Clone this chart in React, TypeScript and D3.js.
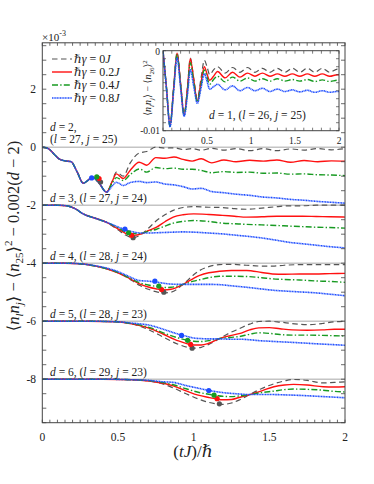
import React from 'react';
import * as d3 from 'd3';

// series order everywhere: hbar*gamma = 0J, 0.2J, 0.4J, 0.8J
const gammas = ['0', '0.2', '0.4', '0.8'];
const colors = ['#555555', '#ff1111', '#189a22', '#1d4cff'];
const dashes = ['5.5,3.5', 'none', '6,2.2,1.4,2.2', '1.1,0.5'];

// panel labels
const panelD = [2, 3, 4, 5, 6];
const panelL = [27, 27, 28, 28, 29];
const panelJ = [25, 24, 24, 23, 23];
const yTickLabels = [2, 0, -2, -4, -6, -8];

// d = 2 (values in units of 1e-3, already shifted by -0.002(d-2))
const t2 = [0, 0.04, 0.08, 0.11, 0.15, 0.19, 0.23, 0.27, 0.3, 0.33, 0.37, 0.425,
  0.46, 0.49, 0.535, 0.58, 0.64, 0.69, 0.75, 0.81, 0.87, 0.93, 0.99, 1.05, 1.12,
  1.2, 1.28, 1.37, 1.46, 1.55, 1.64, 1.73, 1.82, 1.91, 2.0];
const d2Early = [0, -0.05, -0.25, -0.4, -0.47, -0.5, -0.85, -1.24, -1.15, -1.03, -1.2, -1.55];
const d2Gray = [...d2Early, -1.2, -0.86, -1.0, -0.55, -0.2, -0.15, 0.0, -0.03, -0.02, -0.08, -0.05,
  -0.1, -0.04, -0.1, -0.05, -0.12, -0.05, -0.12, -0.06, -0.1, -0.05, -0.09, -0.05];
const d2Red = [...d2Early, -1.2, -0.92, -1.08, -0.8, -0.52, -0.62, -0.36, -0.38, -0.34, -0.42, -0.48,
  -0.4, -0.54, -0.44, -0.5, -0.45, -0.48, -0.44, -0.52, -0.46, -0.5, -0.47, -0.48];
const d2Green = [...d2Early, -1.25, -1.05, -1.15, -0.95, -0.75, -0.86, -0.7, -0.74, -0.72, -0.76, -0.76,
  -0.8, -0.88, -0.84, -0.87, -0.86, -0.9, -0.89, -0.93, -0.92, -0.95, -0.96, -0.98];
const d2Blue = [...d2Early, -1.35, -1.21, -1.32, -1.22, -1.18, -1.22, -1.2, -1.27, -1.3, -1.36, -1.44,
  -1.42, -1.53, -1.57, -1.62, -1.66, -1.72, -1.75, -1.8, -1.83, -1.87, -1.9, -1.93];
const d2DotT = [0.385, 0.375, 0.36, 0.326];
const d2DotV = [-1.2, -1.08, -1.02, -1.06];

// d = 3
const t3 = [0, 0.1, 0.16, 0.22, 0.27, 0.35, 0.425, 0.5, 0.55, 0.6, 0.65, 0.7, 0.755,
  0.81, 0.865, 0.93, 1.0, 1.1, 1.19, 1.27, 1.35, 1.45, 1.55, 1.63, 1.72, 1.81, 1.9, 2.0];
const d3Early = [-2, -2, -2.02, -2.13, -2.3, -2.45, -2.59];
const d3Gray = [...d3Early, -2.85, -3.03, -3.12, -3.02, -2.8, -2.53, -2.33, -2.18, -2.08, -2.05,
  -2.07, -2.08, -2.12, -2.14, -2.1, -2.05, -2.02, -2.02, -2.0, -2.0, -2.0];
const d3Red = [...d3Early, -2.82, -2.97, -3.04, -3.0, -2.88, -2.76, -2.57, -2.41, -2.33, -2.3,
  -2.32, -2.35, -2.38, -2.41, -2.4, -2.38, -2.38, -2.38, -2.39, -2.4, -2.41];
const d3Green = [...d3Early, -2.78, -2.92, -2.98, -2.97, -2.9, -2.83, -2.72, -2.62, -2.56, -2.53,
  -2.56, -2.62, -2.64, -2.66, -2.68, -2.7, -2.72, -2.74, -2.76, -2.77, -2.79];
const d3Blue = [...d3Early, -2.75, -2.85, -2.92, -2.96, -2.96, -2.95, -2.94, -2.93, -2.92, -2.93,
  -2.96, -2.99, -3.03, -3.07, -3.13, -3.21, -3.28, -3.33, -3.38, -3.43, -3.47];
const d3DotT = [0.6, 0.59, 0.57, 0.546];
const d3DotV = [-3.12, -3.04, -2.95, -2.82];

// d = 4
const t4 = [0, 0.15, 0.25, 0.33, 0.425, 0.5, 0.557, 0.645, 0.7, 0.75, 0.8, 0.85, 0.93,
  1.0, 1.04, 1.1, 1.17, 1.25, 1.35, 1.45, 1.52, 1.6, 1.7, 1.8, 1.9, 2.0];
const d4Gray = [-4, -4, -4.02, -4.08, -4.19, -4.33, -4.48, -4.77, -4.9, -4.98, -5.02, -5.0, -4.73,
  -4.4, -4.25, -4.12, -4.05, -4.04, -4.07, -4.1, -4.1, -4.07, -4.05, -4.05, -4.05, -4.05];
const d4Red = [-4, -4, -4.02, -4.08, -4.19, -4.33, -4.47, -4.72, -4.82, -4.88, -4.92, -4.9, -4.73,
  -4.52, -4.42, -4.33, -4.28, -4.25, -4.25, -4.32, -4.37, -4.38, -4.37, -4.37, -4.36, -4.35];
const d4Green = [-4, -4, -4.02, -4.08, -4.19, -4.32, -4.46, -4.68, -4.75, -4.8, -4.84, -4.83, -4.73,
  -4.62, -4.57, -4.5, -4.45, -4.45, -4.46, -4.5, -4.54, -4.56, -4.58, -4.61, -4.63, -4.66];
const d4Blue = [-4, -4, -4.02, -4.07, -4.17, -4.29, -4.42, -4.6, -4.62, -4.65, -4.69, -4.72, -4.73,
  -4.73, -4.73, -4.73, -4.74, -4.78, -4.83, -4.89, -4.93, -4.96, -4.99, -5.02, -5.07, -5.12];
const d4DotT = [0.803, 0.788, 0.77, 0.744];
const d4DotV = [-5.0, -4.91, -4.79, -4.62];

// d = 5
const t5 = [0, 0.3, 0.49, 0.6, 0.71, 0.8, 0.9, 0.96, 1.0, 1.05, 1.1, 1.17, 1.24, 1.3,
  1.37, 1.43, 1.5, 1.57, 1.65, 1.75, 1.85, 1.93, 2.0];
const d5Gray = [-6, -6, -6.02, -6.1, -6.31, -6.55, -6.8, -6.9, -6.93, -6.9, -6.8, -6.6, -6.4, -6.26,
  -6.1, -6.01, -6.0, -6.03, -6.08, -6.12, -6.08, -6.02, -6.0];
const d5Red = [-6, -6, -6.02, -6.1, -6.25, -6.45, -6.68, -6.78, -6.82, -6.82, -6.76, -6.6, -6.5, -6.43,
  -6.3, -6.23, -6.22, -6.26, -6.3, -6.31, -6.3, -6.28, -6.28];
const d5Green = [-6, -6, -6.02, -6.09, -6.22, -6.4, -6.58, -6.66, -6.69, -6.7, -6.67, -6.6, -6.56, -6.53,
  -6.45, -6.4, -6.42, -6.46, -6.48, -6.48, -6.49, -6.5, -6.51];
const d5Blue = [-6, -6, -6.02, -6.07, -6.14, -6.28, -6.45, -6.53, -6.58, -6.6, -6.61, -6.61, -6.62, -6.62,
  -6.64, -6.67, -6.69, -6.71, -6.73, -6.76, -6.79, -6.81, -6.83];
const d5DotT = [0.99, 0.98, 0.96, 0.92];
const d5DotV = [-6.93, -6.8, -6.66, -6.49];

// d = 6
const t6 = [0, 0.4, 0.6, 0.7, 0.8, 0.865, 0.95, 1.03, 1.1, 1.15, 1.19, 1.25, 1.3, 1.37,
  1.45, 1.53, 1.6, 1.66, 1.75, 1.855, 1.93, 2.0];
const d6Gray = [-8, -8, -8.02, -8.06, -8.17, -8.3, -8.5, -8.68, -8.8, -8.85, -8.87, -8.82, -8.72, -8.53,
  -8.32, -8.16, -8.06, -8.01, -8.04, -8.13, -8.11, -8.09];
const d6Red = [-8, -8, -8.02, -8.06, -8.14, -8.23, -8.4, -8.55, -8.63, -8.68, -8.71, -8.7, -8.63, -8.53,
  -8.4, -8.26, -8.2, -8.18, -8.2, -8.26, -8.27, -8.26];
const d6Green = [-8, -8, -8.02, -8.05, -8.12, -8.19, -8.33, -8.45, -8.52, -8.56, -8.59, -8.6, -8.58, -8.53,
  -8.46, -8.41, -8.36, -8.34, -8.35, -8.38, -8.42, -8.44];
const d6Blue = [-8, -8, -8.02, -8.04, -8.09, -8.11, -8.22, -8.31, -8.39, -8.43, -8.46, -8.49, -8.51, -8.53,
  -8.53, -8.53, -8.54, -8.55, -8.57, -8.6, -8.62, -8.64];
const d6DotT = [1.17, 1.155, 1.135, 1.1];
const d6DotV = [-8.85, -8.67, -8.55, -8.39];

// inset, d = 1 (units of 1e-3)
const tIn = [0, 0.04, 0.08, 0.12, 0.16, 0.2, 0.24, 0.28, 0.31, 0.35, 0.39, 0.43, 0.47, 0.5,
  0.53, 0.575, 0.62, 0.705, 0.79, 0.875, 0.96, 1.045, 1.13, 1.215, 1.3, 1.385, 1.47, 1.555,
  1.64, 1.725, 1.81, 1.895, 1.98, 2.0];
const inGray = [0, -4.8, -9.5, -4.8, -0.2, -4.0, -7.9, -4.3, -0.9, -3.5, -6.0, -3.6, -1.2, -2.0,
  -3.0, -2.4, -2.0, -2.8, -2.1, -2.7, -2.1, -2.7, -2.2, -2.7, -2.2, -2.7, -2.2, -2.7,
  -2.2, -2.7, -2.2, -2.7, -2.3, -2.3];
const inRed = [0, -4.7, -9.4, -4.8, -0.3, -4.2, -8.0, -4.5, -1.0, -3.7, -6.3, -4.1, -2.0, -2.9,
  -3.7, -3.2, -2.6, -3.4, -2.7, -3.3, -2.8, -3.2, -2.8, -3.2, -2.9, -3.2, -2.9, -3.2,
  -2.9, -3.2, -2.9, -3.2, -3.0, -3.0];
const inGreen = [0, -4.7, -9.4, -4.9, -0.5, -4.3, -8.1, -4.8, -1.5, -4.0, -6.4, -4.4, -2.4, -3.3,
  -4.2, -3.6, -3.2, -3.9, -3.3, -3.8, -3.4, -3.8, -3.5, -3.8, -3.5, -3.8, -3.6, -3.8,
  -3.6, -3.85, -3.65, -3.85, -3.7, -3.7];
const inBlue = [0, -4.8, -9.5, -5.2, -0.9, -4.6, -8.2, -5.3, -2.4, -4.5, -6.6, -4.8, -2.9, -3.8,
  -4.8, -4.5, -4.2, -4.9, -4.4, -5.0, -4.6, -5.0, -4.7, -5.1, -4.8, -5.1, -4.9, -5.15,
  -4.95, -5.2, -5.0, -5.2, -5.1, -5.1];

const panels = [
  { t: t2, series: [d2Gray, d2Red, d2Green, d2Blue], dotT: d2DotT, dotV: d2DotV },
  { t: t3, series: [d3Gray, d3Red, d3Green, d3Blue], dotT: d3DotT, dotV: d3DotV },
  { t: t4, series: [d4Gray, d4Red, d4Green, d4Blue], dotT: d4DotT, dotV: d4DotV },
  { t: t5, series: [d5Gray, d5Red, d5Green, d5Blue], dotT: d5DotT, dotV: d5DotV },
  { t: t6, series: [d6Gray, d6Red, d6Green, d6Blue], dotT: d6DotT, dotV: d6DotV },
];
const insetSeries = [inGray, inRed, inGreen, inBlue];

const FONT = "'Liberation Serif', 'DejaVu Serif', serif";
const AXIS = '#444';

export default function App() {
  const x = d3.scaleLinear().domain([0, 2]).range([42.3, 345]);
  const y = d3.scaleLinear().domain([-9.5, 3.6]).range([422.7, 42.8]);
  const xi = d3.scaleLinear().domain([0, 2]).range([163, 339]);
  const yi = d3.scaleLinear().domain([-10, 0]).range([130.7, 50.7]);

  const mkLine = (sx: any, sy: any, t: number[]) =>
    d3.line<number>().x((_, i) => sx(t[i])).y((v) => sy(v)).curve(d3.curveMonotoneX);

  const [x0, x1] = x.range();
  const [yb, yt] = y.range();
  const xTicks = d3.range(0, 40.5).map((k) => k * 0.05);
  const yTicks = d3.range(-19, 8).map((k) => k * 0.5);
  const xiTicks = d3.range(0, 20.5).map((k) => k * 0.1);
  const yiTicks = d3.range(-10, 0.5).map((k) => k);

  const legendY = [59, 72, 85, 98];
  const labelY = [0, 202, 260, 318, 376];
  const widths = [1.2, 1.4, 1.4, 1.6];

  return (
    <svg width={374} height={484} style={{ position: 'absolute', left: 0, top: 0, background: '#fff' }}
      fontFamily={FONT}>
      <defs>
        <clipPath id="mainClip"><rect x={x0} y={yt} width={x1 - x0} height={yb - yt} /></clipPath>
        <clipPath id="inClip"><rect x={163} y={50.7} width={176} height={80} /></clipPath>
      </defs>
      <rect width={374} height={484} fill="#fff" />

      {/* baselines */}
      {[0, -2, -4, -6, -8].map((v) => (
        <line key={v} x1={x0} x2={x1} y1={y(v)} y2={y(v)} stroke="#c4c4c4" strokeWidth={1.4} />
      ))}

      {/* curves */}
      <g clipPath="url(#mainClip)">
        {panels.map((p, pi) => (
          <g key={pi}>
            {p.series.map((s, si) => (
              <path key={si} d={mkLine(x, y, p.t)(s) || ''} fill="none" stroke={colors[si]}
                strokeWidth={widths[si]} strokeDasharray={dashes[si]} />
            ))}
            {p.dotT.map((tt, si) => (
              <circle key={'c' + si} cx={x(tt)} cy={y(p.dotV[si])} r={2.6} fill={colors[si]} />
            ))}
          </g>
        ))}
      </g>

      {/* main frame + ticks */}
      <rect x={x0} y={yt} width={x1 - x0} height={yb - yt} fill="none" stroke={AXIS} strokeWidth={1} />
      {xTicks.map((t) => (
        <g key={'xt' + t} stroke={AXIS} strokeWidth={0.8}>
          <line x1={x(t)} x2={x(t)} y1={yb} y2={yb - 3} />
          <line x1={x(t)} x2={x(t)} y1={yt} y2={yt + 3} />
        </g>
      ))}
      {yTicks.map((v) => (
        <g key={'yt' + v} stroke={AXIS} strokeWidth={0.8}>
          <line x1={x0} x2={x0 + 4} y1={y(v)} y2={y(v)} />
          <line x1={x1} x2={x1 - 4} y1={y(v)} y2={y(v)} />
        </g>
      ))}
      {[0, 0.5, 1, 1.5, 2].map((t) => (
        <text key={'xl' + t} x={x(t)} y={441} fontSize={11.5} textAnchor="middle" fill="#222">{t}</text>
      ))}
      {yTickLabels.map((v) => (
        <text key={'yl' + v} x={36} y={y(v) + 4} fontSize={11.5} textAnchor="end" fill="#222">{v}</text>
      ))}
      <text x={42} y={41} fontSize={11} fill="#222">×10<tspan dy={-5} fontSize={8}>-3</tspan></text>

      {/* axis labels */}
      <text x={193} y={457} fontSize={17} textAnchor="middle" fill="#222">
        (<tspan fontStyle="italic">tJ</tspan>)/ℏ
      </text>
      <text transform="translate(19,236) rotate(-90)" fontSize={16.5} textAnchor="middle" fill="#222">
        ⟨<tspan fontStyle="italic">n</tspan><tspan fontStyle="italic" fontSize={11} dy={4}>l</tspan>
        <tspan fontStyle="italic" dy={-4}>n</tspan><tspan fontStyle="italic" fontSize={11} dy={4}>j</tspan>
        <tspan dy={-4}>⟩ − ⟨</tspan><tspan fontStyle="italic">n</tspan>
        <tspan fontSize={11} dy={4}>25</tspan><tspan dy={-4}>⟩</tspan>
        <tspan fontSize={11} dy={-7}>2</tspan><tspan dy={7}> − 0.002(</tspan>
        <tspan fontStyle="italic">d</tspan> − 2)
      </text>

      {/* legend */}
      {gammas.map((g, i) => (
        <g key={'lg' + i}>
          <line x1={52} x2={72} y1={legendY[i]} y2={legendY[i]} stroke={colors[i]}
            strokeWidth={widths[i]} strokeDasharray={dashes[i]} />
          <text x={74} y={legendY[i] + 4} fontSize={12} fill="#222">
            <tspan fontStyle="italic">ℏγ</tspan> = {g}<tspan fontStyle="italic">J</tspan>
          </text>
        </g>
      ))}

      {/* panel labels */}
      <text x={50} y={131} fontSize={11.5} fill="#222">
        <tspan fontStyle="italic">d</tspan> = {panelD[0]},
      </text>
      <text x={50} y={143} fontSize={11.5} fill="#222">
        (<tspan fontStyle="italic">l</tspan> = {panelL[0]}, <tspan fontStyle="italic">j</tspan> = {panelJ[0]})
      </text>
      {panelD.slice(1).map((d, k) => (
        <text key={'pl' + d} x={50} y={labelY[k + 1]} fontSize={11.5} fill="#222">
          <tspan fontStyle="italic">d</tspan> = {d}, (<tspan fontStyle="italic">l</tspan> = {panelL[k + 1]},{' '}
          <tspan fontStyle="italic">j</tspan> = {panelJ[k + 1]})
        </text>
      ))}

      {/* inset */}
      <rect x={163} y={50.7} width={176} height={80} fill="#fff" />
      <g clipPath="url(#inClip)">
        {insetSeries.map((s, si) => (
          <path key={'in' + si} d={mkLine(xi, yi, tIn)(s) || ''} fill="none" stroke={colors[si]}
            strokeWidth={widths[si]} strokeDasharray={dashes[si]} />
        ))}
      </g>
      <rect x={163} y={50.7} width={176} height={80} fill="none" stroke={AXIS} strokeWidth={1} />
      {xiTicks.map((t) => (
        <g key={'xit' + t} stroke={AXIS} strokeWidth={0.7}>
          <line x1={xi(t)} x2={xi(t)} y1={130.7} y2={127.7} />
          <line x1={xi(t)} x2={xi(t)} y1={50.7} y2={53.7} />
        </g>
      ))}
      {yiTicks.map((v) => (
        <g key={'yit' + v} stroke={AXIS} strokeWidth={0.7}>
          <line x1={163} x2={166} y1={yi(v)} y2={yi(v)} />
          <line x1={339} x2={336} y1={yi(v)} y2={yi(v)} />
        </g>
      ))}
      {[0, 0.5, 1, 1.5, 2].map((t) => (
        <text key={'xil' + t} x={xi(t)} y={144} fontSize={9.5} textAnchor="middle" fill="#222">{t}</text>
      ))}
      <text x={160} y={yi(0) + 4} fontSize={9.5} textAnchor="end" fill="#222">0</text>
      <text x={160} y={yi(-10) + 3} fontSize={9.5} textAnchor="end" fill="#222">-0.01</text>
      <text transform="translate(151,88) rotate(-90)" fontSize={10} textAnchor="middle" fill="#222">
        ⟨<tspan fontStyle="italic">n</tspan><tspan fontStyle="italic" fontSize={7} dy={2.5}>l</tspan>
        <tspan fontStyle="italic" dy={-2.5}>n</tspan><tspan fontStyle="italic" fontSize={7} dy={2.5}>j</tspan>
        <tspan dy={-2.5}>⟩ − ⟨</tspan><tspan fontStyle="italic">n</tspan>
        <tspan fontSize={7} dy={2.5}>26</tspan><tspan dy={-2.5}>⟩</tspan>
        <tspan fontSize={7} dy={-4.5}>2</tspan>
      </text>
      <text x={209} y={119} fontSize={11.5} fill="#222">
        <tspan fontStyle="italic">d</tspan> = 1, (<tspan fontStyle="italic">l</tspan> = 26,{' '}
        <tspan fontStyle="italic">j</tspan> = 25)
      </text>
    </svg>
  );
}
